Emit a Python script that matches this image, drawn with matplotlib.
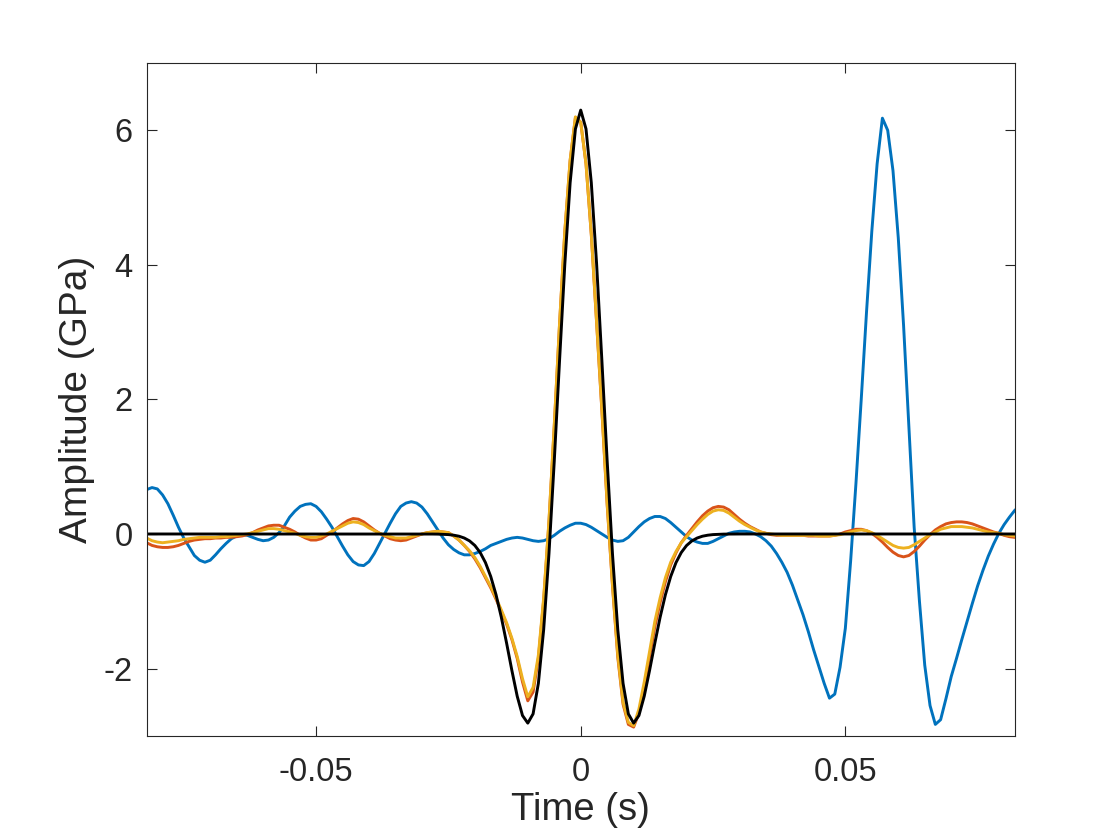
import numpy as np
import matplotlib
matplotlib.use('Agg')
import matplotlib.pyplot as plt

plt.rcParams['font.family'] = ['Liberation Sans', 'DejaVu Sans']
plt.rcParams['axes.unicode_minus'] = False

# sample times, 1 ms step from -82 ms to 82 ms
t = np.arange(-82, 83) * 0.001

# amplitudes in GPa, one value per ms (k = -82 ... 82)
blue_amp = [
    0.66, 0.69, 0.67, 0.58, 0.45, 0.28, 0.10, -0.06, -0.19, -0.32,      # -82..-73
    -0.39, -0.42, -0.39, -0.31, -0.22, -0.14, -0.07, -0.03, -0.01, -0.02,  # -72..-63
    -0.05, -0.08, -0.10, -0.09, -0.05, 0.02, 0.12, 0.25, 0.34, 0.41,    # -62..-53
    0.44, 0.45, 0.41, 0.33, 0.22, 0.10, -0.04, -0.18, -0.31, -0.41,     # -52..-43
    -0.46, -0.47, -0.41, -0.29, -0.14, 0.01, 0.16, 0.30, 0.41, 0.46,    # -42..-33
    0.48, 0.46, 0.40, 0.30, 0.18, 0.06, -0.06, -0.16, -0.23, -0.28,     # -32..-23
    -0.31, -0.31, -0.29, -0.26, -0.22, -0.17, -0.14, -0.11, -0.08, -0.06,  # -22..-13
    -0.05, -0.06, -0.08, -0.10, -0.11, -0.10, -0.07, -0.02, 0.04, 0.09,  # -12..-3
    0.13, 0.16, 0.16, 0.14, 0.10, 0.05, 0.00, -0.05, -0.09, -0.11,      # -2..7
    -0.10, -0.05, 0.03, 0.11, 0.18, 0.23, 0.26, 0.26, 0.23, 0.17,       # 8..17
    0.10, 0.03, -0.04, -0.09, -0.12, -0.14, -0.14, -0.11, -0.07, -0.03,  # 18..27
    0.01, 0.03, 0.04, 0.04, 0.03, 0.00, -0.04, -0.10, -0.18, -0.29,     # 28..37
    -0.42, -0.57, -0.76, -0.98, -1.20, -1.45, -1.72, -1.97, -2.22, -2.44,  # 38..47
    -2.38, -1.98, -1.40, -0.40, 0.75, 2.00, 3.30, 4.50, 5.50, 6.18,     # 48..57
    6.00, 5.40, 4.40, 3.10, 1.60, 0.10, -1.00, -1.95, -2.55, -2.83,     # 58..67
    -2.76, -2.45, -2.12, -1.85, -1.57, -1.30, -1.03, -0.77, -0.54, -0.33,  # 68..77
    -0.15, 0.01, 0.14, 0.25, 0.35,                                      # 78..82
]

orange_amp = [
    -0.13, -0.17, -0.19, -0.20, -0.20, -0.19, -0.17, -0.14, -0.11, -0.09,  # -82..-73
    -0.08, -0.07, -0.07, -0.06, -0.06, -0.05, -0.05, -0.04, -0.03, -0.01,  # -72..-63
    0.02, 0.06, 0.09, 0.12, 0.13, 0.13, 0.10, 0.07, 0.03, -0.02,        # -62..-53
    -0.06, -0.09, -0.09, -0.07, -0.02, 0.03, 0.09, 0.15, 0.20, 0.23,    # -52..-43
    0.22, 0.18, 0.12, 0.06, 0.01, -0.03, -0.07, -0.09, -0.10, -0.09,    # -42..-33
    -0.06, -0.03, 0.00, 0.02, 0.03, 0.04, 0.03, 0.02, -0.03, -0.09,     # -32..-23
    -0.17, -0.26, -0.37, -0.50, -0.65, -0.80, -0.97, -1.15, -1.34, -1.57,  # -22..-13
    -1.85, -2.20, -2.48, -2.35, -1.85, -0.98, 0.18, 1.60, 3.12, 4.50,   # -12..-3
    5.55, 6.19, 6.12, 5.50, 4.45, 3.14, 1.83, 0.43, -0.77, -1.83,       # -2..7
    -2.53, -2.83, -2.87, -2.66, -2.28, -1.83, -1.38, -1.02, -0.71, -0.46,  # 8..17
    -0.28, -0.13, -0.02, 0.08, 0.18, 0.27, 0.34, 0.39, 0.41, 0.40,      # 18..27
    0.36, 0.29, 0.22, 0.16, 0.11, 0.07, 0.03, 0.01, -0.01, -0.02,       # 28..37
    -0.02, -0.02, -0.02, -0.02, -0.02, -0.03, -0.03, -0.03, -0.03, -0.03,  # 38..47
    -0.02, 0.00, 0.03, 0.05, 0.07, 0.07, 0.05, 0.01, -0.05, -0.12,      # 48..57
    -0.20, -0.27, -0.32, -0.34, -0.32, -0.26, -0.18, -0.09, -0.01, 0.06,  # 58..67
    0.11, 0.15, 0.17, 0.18, 0.18, 0.17, 0.15, 0.12, 0.09, 0.06,         # 68..77
    0.03, 0.01, -0.02, -0.04, -0.05,                                    # 78..82
]

yellow_amp = [
    -0.06, -0.10, -0.12, -0.13, -0.12, -0.11, -0.10, -0.08, -0.07, -0.06,  # -82..-73
    -0.05, -0.05, -0.05, -0.05, -0.04, -0.04, -0.03, -0.02, -0.01, 0.00,  # -72..-63
    0.02, 0.04, 0.06, 0.08, 0.08, 0.07, 0.05, 0.03, 0.01, -0.02,        # -62..-53
    -0.04, -0.05, -0.05, -0.03, 0.00, 0.04, 0.08, 0.12, 0.16, 0.18,     # -52..-43
    0.17, 0.14, 0.09, 0.05, 0.01, -0.02, -0.04, -0.06, -0.06, -0.06,    # -42..-33
    -0.04, -0.02, 0.00, 0.02, 0.03, 0.04, 0.03, 0.02, -0.03, -0.09,     # -32..-23
    -0.17, -0.25, -0.35, -0.48, -0.63, -0.78, -0.95, -1.13, -1.32, -1.55,  # -22..-13
    -1.82, -2.15, -2.42, -2.28, -1.80, -0.95, 0.20, 1.62, 3.13, 4.51,   # -12..-3
    5.56, 6.20, 6.12, 5.50, 4.45, 3.15, 1.85, 0.45, -0.75, -1.80,       # -2..7
    -2.50, -2.80, -2.85, -2.60, -2.20, -1.75, -1.30, -0.95, -0.65, -0.42,  # 8..17
    -0.26, -0.13, -0.04, 0.05, 0.14, 0.22, 0.29, 0.34, 0.36, 0.35,      # 18..27
    0.31, 0.25, 0.19, 0.14, 0.10, 0.06, 0.03, 0.01, 0.00, -0.01,        # 28..37
    -0.02, -0.02, -0.02, -0.02, -0.02, -0.02, -0.02, -0.03, -0.03, -0.03,  # 38..47
    -0.02, -0.01, 0.01, 0.03, 0.05, 0.06, 0.05, 0.02, -0.02, -0.07,     # 48..57
    -0.12, -0.17, -0.20, -0.21, -0.20, -0.16, -0.11, -0.06, -0.01, 0.03,  # 58..67
    0.07, 0.09, 0.11, 0.11, 0.11, 0.10, 0.09, 0.07, 0.05, 0.03,         # 68..77
    0.02, 0.01, -0.01, -0.02, -0.03,                                    # 78..82
]

black_amp = [
    0.0, 0.0, 0.0, 0.0, 0.0, 0.0, 0.0, 0.0, 0.0, 0.0,                   # -82..-73
    0.0, 0.0, 0.0, 0.0, 0.0, 0.0, 0.0, 0.0, 0.0, 0.0,                   # -72..-63
    0.0, 0.0, 0.0, 0.0, 0.0, 0.0, 0.0, 0.0, 0.0, 0.0,                   # -62..-53
    0.0, 0.0, 0.0, 0.0, 0.0, 0.0, 0.0, 0.0, 0.0, 0.0,                   # -52..-43
    0.0, 0.0, 0.0, 0.0, 0.0, 0.0, 0.0, 0.0, 0.0, 0.0,                   # -42..-33
    0.0, 0.0, 0.0, 0.0, -0.001, -0.002, -0.005, -0.009, -0.018, -0.033,  # -32..-23
    -0.060, -0.103, -0.171, -0.275, -0.425, -0.632, -0.903, -1.238, -1.624, -2.031,  # -22..-13
    -2.411, -2.698, -2.811, -2.674, -2.220, -1.421, -0.295, 1.081, 2.576, 4.017,  # -12..-3
    5.221, 6.020, 6.300, 6.020, 5.221, 4.017, 2.576, 1.081, -0.295, -1.421,  # -2..7
    -2.220, -2.674, -2.811, -2.698, -2.411, -2.031, -1.624, -1.238, -0.903, -0.632,  # 8..17
    -0.425, -0.275, -0.171, -0.103, -0.060, -0.033, -0.018, -0.009, -0.005, -0.002,  # 18..27
    -0.001, 0.0, 0.0, 0.0, 0.0, 0.0, 0.0, 0.0, 0.0, 0.0,                # 28..37
    0.0, 0.0, 0.0, 0.0, 0.0, 0.0, 0.0, 0.0, 0.0, 0.0,                   # 38..47
    0.0, 0.0, 0.0, 0.0, 0.0, 0.0, 0.0, 0.0, 0.0, 0.0,                   # 48..57
    0.0, 0.0, 0.0, 0.0, 0.0, 0.0, 0.0, 0.0, 0.0, 0.0,                   # 58..67
    0.0, 0.0, 0.0, 0.0, 0.0, 0.0, 0.0, 0.0, 0.0, 0.0,                   # 68..77
    0.0, 0.0, 0.0, 0.0, 0.0,                                            # 78..82
]

xtick_vals = [-0.05, 0, 0.05]
xtick_text = ['-0.05', '0', '0.05']
ytick_vals = [-2, 0, 2, 4, 6]
ytick_text = ['-2', '0', '2', '4', '6']

fig = plt.figure(figsize=(11.2, 8.4), dpi=100)
ax = fig.add_axes([0.131, 0.124, 0.775, 0.801])

ax.plot(t, blue_amp, color='#0072BD', lw=2.1)
ax.plot(t, orange_amp, color='#D95319', lw=2.1)
ax.plot(t, yellow_amp, color='#EDB120', lw=2.1)
ax.plot(t, black_amp, color='k', lw=2.1)

ax.set_xlim(-0.082, 0.082)
ax.set_ylim(-3, 7)
ax.set_xticks(xtick_vals)
ax.set_xticklabels(xtick_text)
ax.set_yticks(ytick_vals)
ax.set_yticklabels(ytick_text)

ax.tick_params(direction='in', length=7, width=0.8, top=True, right=True,
               labelsize=23.5, colors='#262626')
ax.tick_params(axis='x', pad=15)
ax.tick_params(axis='y', pad=10)
for s in ax.spines.values():
    s.set_color('#262626')
    s.set_linewidth(0.8)

ax.set_xlabel('Time (s)', fontsize=27.5, color='#262626', labelpad=3)
ax.set_ylabel('Amplitude (GPa)', fontsize=28, color='#262626', labelpad=6)

plt.savefig('out.png', dpi=100)
